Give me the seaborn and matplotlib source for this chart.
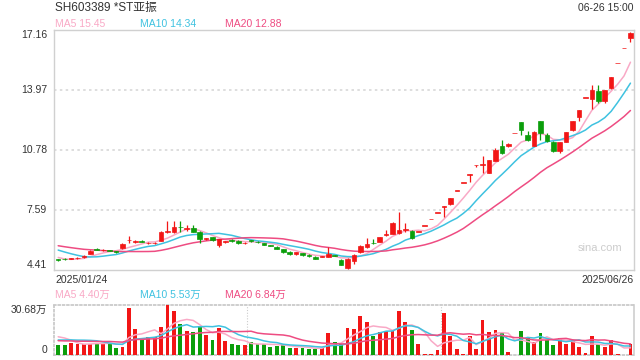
import numpy as np
import pandas as pd
import seaborn as sns
import matplotlib.pyplot as plt

# daily k-line, 2025/01/24 .. 2025/06/26 (90 sessions)
opens = [4.97, 5.00, 5.00, 5.04, 5.10, 5.26, 5.53, 5.45, 5.45, 5.42,
         5.56, 5.98, 5.90, 5.97, 5.82, 5.83, 5.97, 6.45, 6.43, 6.72,
         6.60, 6.64, 6.45, 6.07, 6.15, 5.76, 5.90, 5.98, 5.97, 5.82,
         5.98, 5.92, 5.83, 5.74, 5.65, 5.51, 5.38, 5.24, 5.31, 5.22,
         5.12, 5.10, 5.12, 5.20, 4.94, 4.50, 4.90, 5.34, 5.62, 5.85,
         5.91, 6.27, 6.33, 6.36, 6.56, 6.49, 6.44, 6.76, 7.10, 7.45,
         7.78, 7.90, 8.62, 9.05, 9.47, 9.98, 10.00, 9.58, 10.22, 11.00,
         10.98, 11.68, 12.26, 11.58, 11.02, 12.35, 11.58, 11.23, 10.73, 11.23,
         11.85, 12.55, 13.57, 13.50, 13.92, 13.37, 14.10, 15.40, 16.19, 16.72]
highs = [5.00, 5.03, 5.04, 5.12, 5.20, 5.47, 5.56, 5.53, 5.48, 5.44,
         5.83, 6.20, 6.00, 6.00, 5.90, 5.90, 6.46, 7.03, 7.00, 7.00,
         6.80, 6.81, 6.47, 6.12, 6.18, 6.06, 5.97, 6.05, 6.00, 5.90,
         6.03, 5.95, 5.86, 5.76, 5.67, 5.53, 5.40, 5.36, 5.33, 5.24,
         5.14, 5.16, 5.62, 5.22, 4.97, 5.03, 5.25, 5.72, 6.09, 6.04,
         6.18, 6.54, 6.98, 7.47, 6.89, 6.55, 6.44, 6.76, 7.10, 7.45,
         7.82, 8.21, 8.62, 9.05, 9.50, 9.98, 10.47, 10.28, 10.87, 11.30,
         11.15, 11.68, 12.26, 11.80, 11.80, 12.35, 11.70, 11.25, 11.22, 11.76,
         12.31, 12.93, 13.57, 14.25, 14.25, 13.97, 14.67, 15.40, 16.19, 17.06]
lows = [4.90, 4.94, 4.98, 5.02, 5.07, 5.24, 5.45, 5.42, 5.40, 5.33,
        5.54, 5.85, 5.86, 5.88, 5.80, 5.80, 5.95, 6.35, 6.40, 6.45,
        6.50, 6.42, 5.85, 6.00, 5.95, 5.62, 5.87, 5.90, 5.80, 5.78,
        5.90, 5.85, 5.72, 5.66, 5.50, 5.30, 5.22, 5.22, 5.18, 5.10,
        4.98, 5.08, 5.10, 5.15, 4.68, 4.45, 4.73, 5.30, 5.60, 5.80,
        5.88, 6.20, 6.30, 6.30, 6.45, 6.08, 6.43, 6.76, 7.10, 7.45,
        7.24, 7.88, 8.62, 9.05, 9.07, 9.90, 9.55, 9.55, 10.20, 10.58,
        10.95, 11.68, 11.58, 11.28, 10.98, 11.32, 11.22, 10.68, 10.61, 11.20,
        11.80, 12.33, 13.57, 12.96, 13.30, 13.30, 14.05, 15.40, 16.19, 16.54]
closes = [4.94, 4.98, 5.02, 5.07, 5.12, 5.44, 5.48, 5.47, 5.43, 5.35,
          5.80, 6.00, 5.92, 5.90, 5.84, 5.85, 6.43, 6.50, 6.70, 6.68,
          6.63, 6.45, 6.07, 6.09, 5.98, 6.04, 5.92, 5.96, 5.84, 5.84,
          5.96, 5.88, 5.75, 5.69, 5.54, 5.34, 5.26, 5.34, 5.21, 5.13,
          5.01, 5.12, 5.26, 5.18, 4.70, 5.01, 5.20, 5.68, 5.79, 5.83,
          6.15, 6.29, 6.93, 6.54, 6.58, 6.13, 6.44, 6.76, 7.10, 7.45,
          7.82, 8.21, 8.62, 9.05, 9.50, 9.98, 10.05, 10.25, 10.76, 10.61,
          11.12, 11.68, 11.85, 11.32, 11.76, 11.67, 11.27, 10.73, 11.20, 11.72,
          12.30, 12.91, 13.57, 13.97, 13.37, 13.97, 14.67, 15.40, 16.19, 17.02]
# volume in 万
volumes = [6.1, 6.1, 7.5, 6.7, 6.7, 6.7, 7.5, 7.5, 7.5, 4.5,
           5.1, 29.0, 16.0, 10.2, 10.9, 10.9, 17.4, 30.68, 27.2, 19.0,
           14.9, 14.3, 17.8, 12.3, 9.2, 16.4, 8.6, 6.7, 6.1, 6.1,
           8.0, 6.7, 6.7, 5.1, 5.7, 6.5, 4.3, 4.3, 4.3, 3.9,
           3.9, 4.1, 13.7, 8.2, 6.7, 16.8, 16.2, 23.9, 20.4, 11.8,
           13.9, 14.5, 14.9, 27.2, 20.2, 15.3, 6.9, 0.6, 0.6, 3.1,
           26.0, 11.8, 3.9, 0.6, 11.7, 3.7, 21.5, 14.3, 15.3, 13.7,
           2.0, 0.2, 14.7, 10.9, 7.8, 13.2, 9.2, 6.1, 10.4, 6.9,
           8.6, 5.2, 1.4, 11.6, 6.5, 5.1, 9.2, 0.6, 0.3, 6.8]
# sessions before the window, only used to seed the moving averages
prev_closes = [6.05, 6.00, 5.98, 5.95, 5.92, 5.90, 5.93, 5.90, 5.85, 5.82,
               6.00, 5.95, 5.90, 5.80, 5.65, 5.38, 5.12, 4.98, 4.96]
prev_volumes = [9, 8, 10, 7, 8, 9, 8, 7, 9, 9,
                6, 7, 8, 7, 8, 10, 14, 15, 10.9]

price_ticks = [4.41, 7.59, 10.78, 13.97, 17.16]
vol_max = 30.68
ma_windows = [5, 10, 20]
ma_colors = ['#f9a9c6', '#3fc2e0', '#ee4c82']
RED = '#f21616'
GREEN = '#0b9e0b'
GRID = '#d8d8d8'
TXT = '#333333'

sns.set_theme(style='white')
plt.rcParams['font.family'] = ['Liberation Sans', 'Noto Sans CJK SC', 'DejaVu Sans']

n = len(closes)
idx = np.arange(n)
df = pd.DataFrame({'x': idx, 'open': opens, 'high': highs, 'low': lows,
                   'close': closes, 'vol': volumes})
up = df['close'] >= df['open']
colors = np.where(up, RED, GREEN)

all_close = pd.Series(prev_closes + closes)
all_vol = pd.Series(prev_volumes + volumes)
k = len(prev_closes)
for w in ma_windows:
    df['ma%d' % w] = all_close.rolling(w).mean().iloc[k:].values
    df['vma%d' % w] = all_vol.rolling(w).mean().iloc[k:].values

fig = plt.figure(figsize=(6.4, 3.6), dpi=100)
ax = fig.add_axes([54 / 640, 1 - 270 / 360, 580 / 640, 240 / 360])
axv = fig.add_axes([54 / 640, 1 - 355 / 360, 580 / 640, 50 / 360])
xlim = (-0.65, n - 0.45)

# candles
ax.vlines(df['x'], df['low'], df['high'], colors=colors, linewidth=0.9, zorder=3)
body = (df['close'] - df['open']).abs().clip(lower=0.03)
ax.bar(df['x'], body, bottom=df[['open', 'close']].min(axis=1), width=0.72,
       color=colors, edgecolor=colors, linewidth=0.5, zorder=4)
for w, c in zip(ma_windows, ma_colors):
    sns.lineplot(data=df, x='x', y='ma%d' % w, ax=ax, color=c, linewidth=1.1, zorder=2)

ax.set_xlim(*xlim)
ax.set_ylim(price_ticks[0], price_ticks[-1])
for p in price_ticks[1:-1]:
    ax.axhline(p, color=GRID, linestyle=(0, (1.5, 2)), linewidth=1.2, zorder=0)
ax.set_xticks([])
ax.set_yticks([])
ax.set_xlabel('')
ax.set_ylabel('')
for s in ax.spines.values():
    s.set_color('#d0d0d0')
    s.set_linewidth(1.0)
for i, p in enumerate(price_ticks):
    va = 'bottom' if i == 0 else ('top' if i == len(price_ticks) - 1 else 'center')
    ax.text(-0.012, p, '%.2f' % p, transform=ax.get_yaxis_transform(),
            ha='right', va=va, fontsize=7.5, color=TXT)
ax.text(0.002, -0.02, '2025/01/24', transform=ax.transAxes, ha='left', va='top',
        fontsize=7.5, color=TXT)
ax.text(1.0, -0.02, '2025/06/26', transform=ax.transAxes, ha='right', va='top',
        fontsize=7.5, color=TXT)
ax.text(0.98, 0.09, 'sina.com', transform=ax.transAxes, ha='right', va='center',
        fontsize=8, color='#cccccc')

# volume
axv.bar(df['x'], df['vol'], width=0.6, color=colors, linewidth=0, zorder=3)
for w, c in zip(ma_windows, ma_colors):
    sns.lineplot(data=df, x='x', y='vma%d' % w, ax=axv, color=c, linewidth=1.1, zorder=4)
axv.set_xlim(*xlim)
axv.set_ylim(0, vol_max)
axv.set_xticks([])
axv.set_yticks([])
axv.set_xlabel('')
axv.set_ylabel('')
third = (xlim[1] - xlim[0]) / 3
for xv in [xlim[0] + third, xlim[0] + 2 * third]:
    axv.axvline(xv, color='#cccccc', linestyle=(0, (1, 1.5)), linewidth=0.8, zorder=0)
for side in ['top', 'left', 'bottom']:
    axv.spines[side].set_linestyle((0, (1, 1.5)))
    axv.spines[side].set_color('#c8c8c8')
axv.spines['right'].set_color('#d0d0d0')
axv.text(-0.012, vol_max, '%.2f万' % vol_max, transform=axv.get_yaxis_transform(),
         ha='right', va='top', fontsize=7.5, color=TXT)
axv.text(-0.012, 0, '0', transform=axv.get_yaxis_transform(),
         ha='right', va='bottom', fontsize=7.5, color=TXT)

# header texts
fig.text(55 / 640, 1 - 8 / 360, 'SH603389 *ST亚振', ha='left', va='center',
         fontsize=8.5, color=TXT)
fig.text(634 / 640, 1 - 8 / 360, '06-26 15:00', ha='right', va='center',
         fontsize=7.5, color=TXT)
legend_x = [55, 140, 225]
last = df.iloc[-1]
for lx, w, c in zip(legend_x, ma_windows, ma_colors):
    fig.text(lx / 640, 1 - 24 / 360, 'MA%d %.2f' % (w, last['ma%d' % w]),
             ha='left', va='center', fontsize=7.5, color=c)
    fig.text(lx / 640, 1 - 295 / 360, 'MA%d %.2f万' % (w, last['vma%d' % w]),
             ha='left', va='center', fontsize=7.5, color=c)

fig.savefig('out.png', dpi=100)
plt.close()
